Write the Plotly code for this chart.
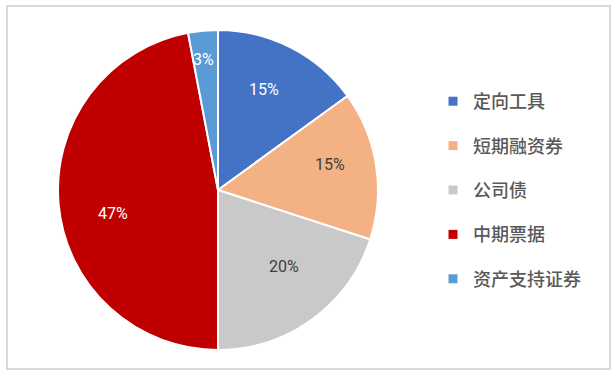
import math
import plotly.graph_objects as go

categories = ["定向工具", "短期融资券", "公司债", "中期票据", "资产支持证券"]
values = [15, 15, 20, 47, 3]
colors = ["#4472C4", "#F4B183", "#C9C9C9", "#C00000", "#5B9BD5"]
text_colors = ["#FFFFFF", "#404040", "#404040", "#FFFFFF", "#FFFFFF"]
label_radius = [0.69, 0.716, 0.628, 0.67, 0.818]  # label distance as fraction of radius
label_angle_shift = [-2.4, -4.1, -4.8, -7.0, -1.1]  # degrees from slice mid-angle

W, H = 616, 376
CX, CY, R = 218, 190, 160

fig = go.Figure()

fig.add_trace(go.Pie(
    labels=categories,
    values=values,
    sort=False,
    direction="clockwise",
    rotation=0,
    marker=dict(colors=colors, line=dict(color="white", width=2)),
    textinfo="none",
    hoverinfo="label+percent",
    showlegend=False,
    domain=dict(x=[(CX - R) / W, (CX + R) / W], y=[1 - (CY + R) / H, 1 - (CY - R) / H]),
))

for name, c in zip(categories, colors):
    fig.add_trace(go.Scatter(
        x=[None], y=[None], mode="markers", name=name, legendgroup=name,
        marker=dict(symbol="square", size=9, color=c),
        showlegend=True,
    ))

# data labels placed near each slice's mid-angle
total = sum(values)
annotations = []
cum = 0
for v, tc, fr, sh in zip(values, text_colors, label_radius, label_angle_shift):
    mid = (cum + v / 2) / total * 2 * math.pi + math.radians(sh)
    cum += v
    px = CX + fr * R * math.sin(mid)
    py = CY - fr * R * math.cos(mid)
    annotations.append(dict(
        x=px / W, y=1 - py / H, xref="paper", yref="paper",
        text=f"{v}%", showarrow=False,
        font=dict(family="Roboto, Liberation Sans, Arial", size=16, color=tc),
        xanchor="center", yanchor="middle",
    ))

fig.update_layout(
    width=W, height=H,
    margin=dict(l=0, r=0, t=0, b=0),
    paper_bgcolor="white",
    plot_bgcolor="white",
    xaxis=dict(visible=False),
    yaxis=dict(visible=False),
    annotations=annotations,
    legend=dict(
        x=433 / W, y=1 - 83 / H, xanchor="left", yanchor="top",
        font=dict(family="Noto Sans CJK SC", size=18, color="#595959", weight=500),
        tracegroupgap=18,
        itemwidth=30,
        bgcolor="rgba(0,0,0,0)",
    ),
    shapes=[dict(type="rect", xref="paper", yref="paper",
                 x0=7 / W, x1=610 / W, y0=1 - 369 / H, y1=1 - 6 / H,
                 line=dict(color="#D9D9D9", width=2), layer="below")],
)

fig.write_html("out.html", config={"displayModeBar": False},
               post_script="document.body.style.margin='0';")
